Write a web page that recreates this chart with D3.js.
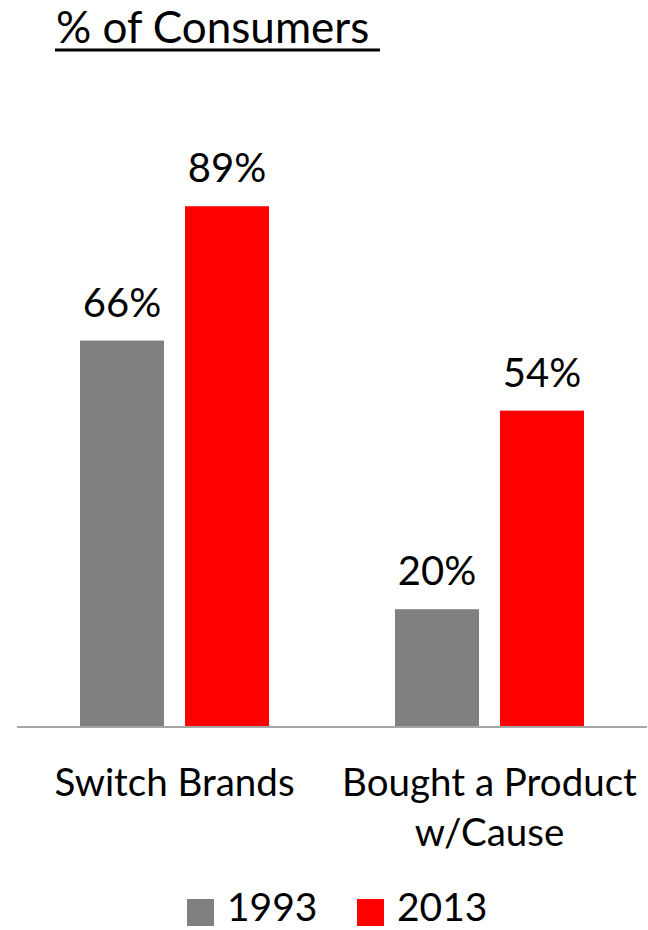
<!DOCTYPE html>
<html><head><meta charset="utf-8">
<script src="https://cdn.jsdelivr.net/npm/d3@7"></script>
<style>body{margin:0;background:#fff}svg{display:block}text{font-family:Lato,"Open Sans",sans-serif;fill:#000}</style>
</head><body><svg id="c" width="648" height="930"></svg>
<script>
const categories = ["Switch Brands", "Bought a Product\nw/Cause"];
const seriesNames = ["1993", "2013"];
const values1993 = [66, 20];
const values2013 = [89, 54];
const colors = ["#808080", "#ff0000"];

const svg = d3.select("#c");
const y = d3.scaleLinear().domain([0, 100]).range([726, 142]);

const data = [];
categories.forEach((c, i) => {
  data.push({cat: c, s: "1993", v: values1993[i]});
  data.push({cat: c, s: "2013", v: values2013[i]});
});
const color = d3.scaleOrdinal().domain(seriesNames).range(colors);
const groupStart = d3.scalePoint().domain(categories).range([80, 395]);
const xb = d3.scaleBand().domain(seriesNames).range([0, 189]).paddingInner(0.2);

svg.append("g").selectAll("rect").data(data).join("rect")
  .attr("x", d => groupStart(d.cat) + xb(d.s))
  .attr("y", d => y(d.v))
  .attr("width", xb.bandwidth())
  .attr("height", d => y(0) - y(d.v))
  .attr("fill", d => color(d.s));

svg.append("g").selectAll("text").data(data).join("text")
  .attr("x", d => groupStart(d.cat) + xb(d.s) + xb.bandwidth() / 2)
  .attr("y", d => y(d.v) - 24)
  .attr("text-anchor", "middle")
  .attr("font-size", 40)
  .text(d => d.v + "%");

svg.append("line").attr("x1", 17).attr("x2", 647).attr("y1", y(0) + 1).attr("y2", y(0) + 1)
  .attr("stroke", "#a6a6a6").attr("stroke-width", 2);

categories.forEach(c => {
  const lines = c.split("\n");
  const cx = groupStart(c) + 189 / 2;
  const t = svg.append("text").attr("text-anchor", "middle").attr("font-size", 38.5)
    .attr("x", cx).attr("y", 796);
  lines.forEach((l, i) => t.append("tspan").attr("x", cx).attr("dy", i ? 50 : 0).text(l));
});

// title
svg.append("text").attr("x", 56).attr("y", 43).attr("font-size", 44).text("% of Consumers");
svg.append("line").attr("x1", 55).attr("x2", 380).attr("y1", 50).attr("y2", 50).attr("stroke", "#000").attr("stroke-width", 3);

// legend
const lx = [187, 357];
seriesNames.forEach((s, i) => {
  svg.append("rect").attr("x", lx[i]).attr("y", 899).attr("width", 27).attr("height", 27).attr("fill", colors[i]);
  svg.append("text").attr("x", lx[i] + 40).attr("y", 921).attr("font-size", 39).text(s);
});
</script></body></html>
